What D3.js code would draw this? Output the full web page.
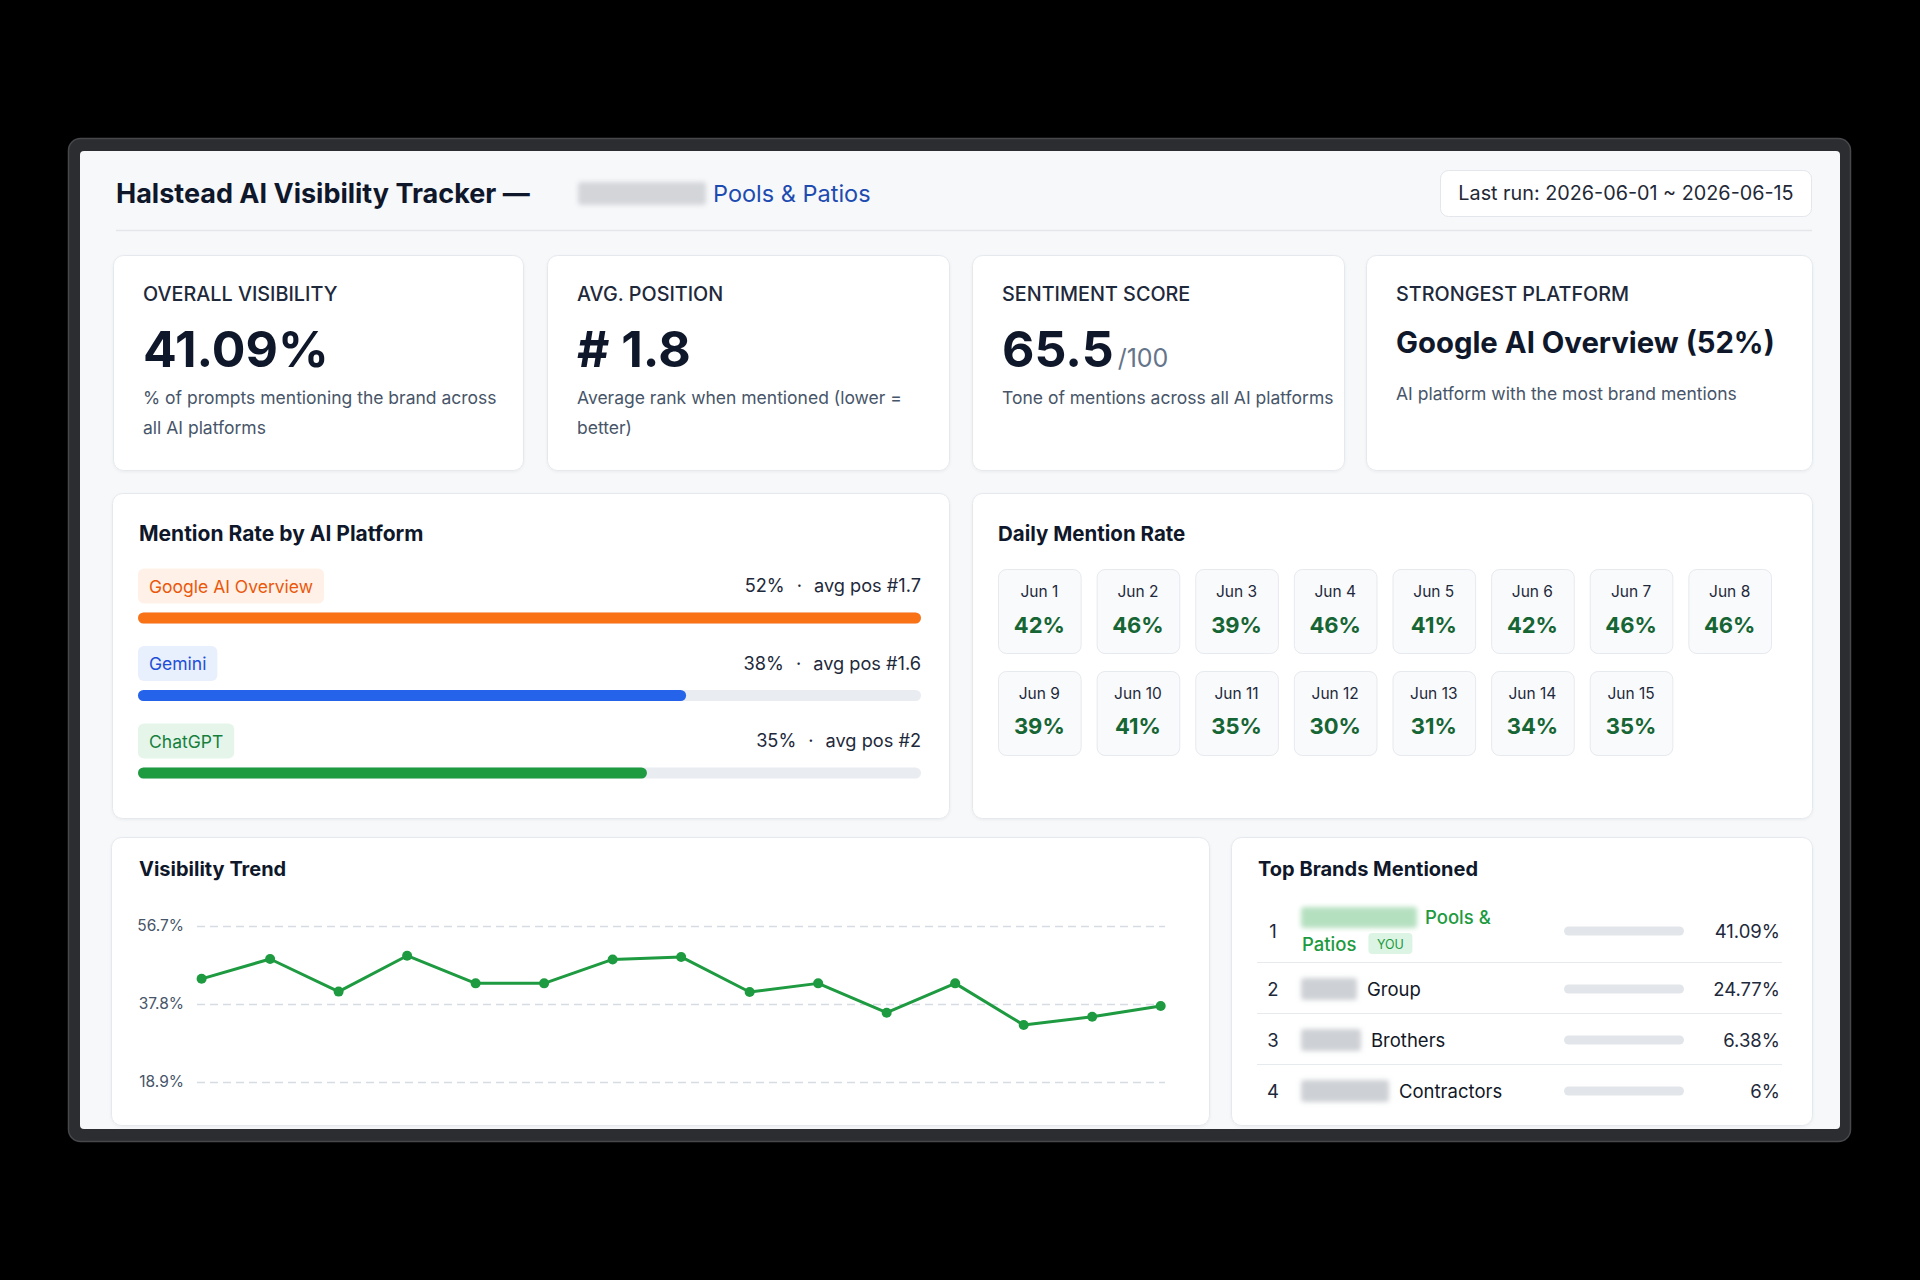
<!DOCTYPE html>
<html>
<head>
<meta charset="utf-8">
<script src="https://cdn.jsdelivr.net/npm/d3@7"></script>
<style>
  html, body { margin: 0; padding: 0; background: #000; }
  svg { display: block; font-family: Inter, Lato, "Open Sans", sans-serif; }
</style>
</head>
<body>
<svg id="chart" width="1920" height="1280"></svg>
<script>
// ---- data ----
const kpiLabels = ["OVERALL VISIBILITY", "AVG. POSITION", "SENTIMENT SCORE", "STRONGEST PLATFORM"];
const kpiValues = ["41.09%", "# 1.8", "65.5", "Google AI Overview (52%)"];
const kpiSuffix = ["", "", "/100", ""];
const kpiNotes = [
    ["% of prompts mentioning the brand across", "all AI platforms"],
    ["Average rank when mentioned (lower =", "better)"],
    ["Tone of mentions across all AI platforms"],
    ["AI platform with the most brand mentions"]
];

const platforms = ["Google AI Overview", "Gemini", "ChatGPT"];
const platformRate = [52, 38, 35];
const platformAvgPos = ["1.7", "1.6", "2"];
const platformFill = [1.0, 0.70, 0.65]; // share of the track that is filled

const dayLabels = ["Jun 1", "Jun 2", "Jun 3", "Jun 4", "Jun 5", "Jun 6", "Jun 7", "Jun 8",
    "Jun 9", "Jun 10", "Jun 11", "Jun 12", "Jun 13", "Jun 14", "Jun 15"];
const dayRates = [42, 46, 39, 46, 41, 42, 46, 46, 39, 41, 35, 30, 31, 34, 35];

const trendValues = [43.9, 48.7, 40.8, 49.5, 42.8, 42.8, 48.6, 49.2, 40.7, 42.8, 35.7, 42.8, 32.7, 34.7, 37.3];
const trendTicks = [18.9, 37.8, 56.7];

const brandRank = [1, 2, 3, 4];
const brandNames = ["Pools & Patios", "Group", "Brothers", "Contractors"];
const brandShare = [41.09, 24.77, 6.38, 6];

// ---- styles ----
const ink = "#0f172a", text2 = "#1e293b", muted = "#475569", green = "#1e9a40";
const platformStyle = [
    {text: "#ea580c", bg: "#fff1e7", bar: "#f97316"},
    {text: "#1d4ed8", bg: "#e8effd", bar: "#2563eb"},
    {text: "#15803d", bg: "#e5f5ea", bar: "#1e9a40"}
];

const svg = d3.select("#chart");
const defs = svg.append("defs");
defs.append("filter").attr("id", "blur").attr("x", "-20%").attr("y", "-40%")
    .attr("width", "140%").attr("height", "180%")
    .append("feGaussianBlur").attr("stdDeviation", 2.5);
defs.append("filter").attr("id", "shadow").attr("x", "-5%").attr("y", "-5%")
    .attr("width", "110%").attr("height", "115%")
    .append("feDropShadow").attr("dx", 0).attr("dy", 1).attr("stdDeviation", 1.5)
    .attr("flood-color", "#0f172a").attr("flood-opacity", 0.05);

// window frame + panel
svg.append("rect").attr("x", 68.5).attr("y", 138.5).attr("width", 1782).attr("height", 1003)
    .attr("rx", 12).attr("fill", "#2c2d30").attr("stroke", "#47484c").attr("stroke-width", 1.5);
svg.append("rect").attr("x", 80).attr("y", 151).attr("width", 1760).attr("height", 978)
    .attr("rx", 4).attr("fill", "#f7f8fa");

function card(x, y, w, h) {
    return svg.append("rect").attr("x", x + 0.5).attr("y", y + 0.5)
        .attr("width", w).attr("height", h).attr("rx", 10)
        .attr("fill", "#fff").attr("stroke", "#e5e8ed").attr("filter", "url(#shadow)");
}

function mask(g, x, y, w, h, fill) {
    return g.append("rect").attr("x", x).attr("y", y).attr("width", w).attr("height", h)
        .attr("rx", 3).attr("fill", fill).attr("filter", "url(#blur)");
}

// ---- header ----
svg.append("text").attr("x", 116).attr("y", 193).attr("dominant-baseline", "central")
    .attr("font-size", 27).attr("font-weight", 700).attr("fill", ink)
    .text("Halstead AI Visibility Tracker —");
mask(svg, 578, 182, 128, 23, "#d3d5d9");
svg.append("text").attr("x", 713).attr("y", 193).attr("dominant-baseline", "central")
    .attr("font-size", 23.5).attr("fill", "#1e4bb0").text("Pools & Patios");

svg.append("rect").attr("x", 1440.5).attr("y", 170.5).attr("width", 371).attr("height", 46)
    .attr("rx", 8).attr("fill", "#fff").attr("stroke", "#e3e6eb");
svg.append("text").attr("x", 1626).attr("y", 193).attr("dominant-baseline", "central")
    .attr("text-anchor", "middle").attr("font-size", 19.8).attr("fill", "#1f2937")
    .text("Last run: 2026-06-01 ~ 2026-06-15");

svg.append("line").attr("x1", 116).attr("x2", 1812).attr("y1", 230.5).attr("y2", 230.5)
    .attr("stroke", "#e3e6eb").attr("stroke-width", 1.5);

// ---- KPI cards ----
const kpiBox = [[113, 410], [547, 402], [972, 372], [1366, 446]];
kpiLabels.forEach((label, i) => {
    const [x, w] = kpiBox[i];
    card(x, 255, w, 215);
    const g = svg.append("g").attr("transform", `translate(${x + 30},255)`);
    g.append("text").attr("y", 39).attr("dominant-baseline", "central")
        .attr("font-size", 19.8).attr("font-weight", 500).attr("fill", text2).text(label);
    const big = i < 3;
    const v = g.append("text").attr("y", big ? 112 : 98)
        .attr("font-size", big ? 50 : 29.3).attr("font-weight", 700).attr("fill", ink)
        .text(kpiValues[i]);
    if (kpiSuffix[i]) {
        v.append("tspan").attr("dx", 4).attr("font-size", 25).attr("font-weight", 400)
            .attr("fill", "#64748b").text(kpiSuffix[i]);
    }
    kpiNotes[i].forEach((line, j) => {
        g.append("text").attr("y", (big ? 142 : 138) + j * 30).attr("dominant-baseline", "central")
            .attr("font-size", 17.5).attr("fill", muted).text(line);
    });
});

// ---- Mention rate by platform ----
card(112, 493, 837, 325);
svg.append("text").attr("x", 139).attr("y", 533).attr("dominant-baseline", "central")
    .attr("font-size", 21).attr("font-weight", 700).attr("fill", ink)
    .text("Mention Rate by AI Platform");

const yP = d3.scalePoint().domain(platforms).range([586, 741]);
const xP = d3.scaleLinear().domain([0, 1]).range([138, 921]);

const pRows = svg.append("g").selectAll("g")
    .data(platforms.map((name, i) => ({name, i, rate: platformRate[i], pos: platformAvgPos[i], fill: platformFill[i]})))
    .join("g")
    .attr("transform", d => `translate(0,${yP(d.name)})`);

pRows.each(function (d) {
    const g = d3.select(this);
    const st = platformStyle[d.i];
    const pill = g.append("rect").attr("x", 138).attr("y", -17.5).attr("height", 35)
        .attr("rx", 6).attr("fill", st.bg);
    const t = g.append("text").attr("x", 149).attr("dominant-baseline", "central")
        .attr("font-size", 17.5).attr("fill", st.text).text(d.name);
    pill.attr("width", t.node().getComputedTextLength() + 22);

    const lab = g.append("text").attr("x", xP(1)).attr("y", -1).attr("text-anchor", "end")
        .attr("dominant-baseline", "central").attr("font-size", 18.2).attr("fill", text2);
    lab.append("tspan").text(d.rate + "%");
    lab.append("tspan").attr("dx", 12).text("·");
    lab.append("tspan").attr("dx", 12).text("avg pos #" + d.pos);

    g.append("rect").attr("x", xP(0)).attr("y", 32 - 5.5).attr("height", 11).attr("rx", 5.5)
        .attr("width", xP(1) - xP(0)).attr("fill", "#e9ecf1");
    g.append("rect").attr("x", xP(0)).attr("y", 32 - 5.5).attr("height", 11).attr("rx", 5.5)
        .attr("width", xP(d.fill) - xP(0)).attr("fill", st.bar);
});

// ---- Daily mention rate ----
card(972, 493, 840, 325);
svg.append("text").attr("x", 998).attr("y", 533).attr("dominant-baseline", "central")
    .attr("font-size", 20.5).attr("font-weight", 700).attr("fill", ink)
    .text("Daily Mention Rate");

const perRow = 8;
const xCol = d3.scaleBand().domain(d3.range(perRow)).range([998, 1771]).paddingInner(0.162);
const yRow = d3.scaleBand().domain([0, 1]).range([569, 755]).paddingInner(0.176);

const tiles = svg.append("g").selectAll("g")
    .data(dayLabels.map((label, i) => ({label, rate: dayRates[i], col: i % perRow, row: Math.floor(i / perRow)})))
    .join("g")
    .attr("transform", d => `translate(${xCol(d.col)},${yRow(d.row)})`);
tiles.append("rect").attr("x", 0.5).attr("y", 0.5)
    .attr("width", xCol.bandwidth()).attr("height", yRow.bandwidth())
    .attr("rx", 8).attr("fill", "#f9fafb").attr("stroke", "#e6e9ee");
tiles.append("text").attr("x", xCol.bandwidth() / 2).attr("y", 22.5)
    .attr("text-anchor", "middle").attr("dominant-baseline", "central")
    .attr("font-size", 15.5).attr("fill", text2).text(d => d.label);
tiles.append("text").attr("x", xCol.bandwidth() / 2).attr("y", 55.5)
    .attr("text-anchor", "middle").attr("dominant-baseline", "central")
    .attr("font-size", 22).attr("font-weight", 700).attr("fill", "#166534").text(d => d.rate + "%");

// ---- Visibility trend ----
card(111, 837, 1098, 288);
svg.append("text").attr("x", 139).attr("y", 869).attr("dominant-baseline", "central")
    .attr("font-size", 20).attr("font-weight", 700).attr("fill", ink)
    .text("Visibility Trend");

const xT = d3.scalePoint().domain(dayLabels).range([201.6, 1160.7]);
const yT = d3.scaleLinear().domain([0, 56.7]).range([1160, 926]);

svg.append("g").attr("transform", "translate(197,0)")
    .call(d3.axisLeft(yT).tickValues(trendTicks).tickSize(-968).tickPadding(13)
        .tickFormat(d => d3.format(".1f")(d) + "%"))
    .call(g => g.select(".domain").remove())
    .call(g => g.selectAll(".tick line").attr("stroke", "#d6dbe4")
        .attr("stroke-width", 1.5).attr("stroke-dasharray", "8 5"))
    .call(g => g.selectAll(".tick text").attr("font-size", 15.5).attr("fill", muted)
        .attr("font-family", "Inter, Lato, sans-serif"));

svg.append("path").datum(trendValues)
    .attr("fill", "none").attr("stroke", green).attr("stroke-width", 3)
    .attr("stroke-linejoin", "round")
    .attr("d", d3.line().x((d, i) => xT(dayLabels[i])).y(d => yT(d)));
svg.append("g").selectAll("circle").data(trendValues).join("circle")
    .attr("cx", (d, i) => xT(dayLabels[i])).attr("cy", d => yT(d))
    .attr("r", 5).attr("fill", green);

// ---- Top brands ----
card(1231, 837, 581, 288);
svg.append("text").attr("x", 1258).attr("y", 869).attr("dominant-baseline", "central")
    .attr("font-size", 20).attr("font-weight", 700).attr("fill", ink)
    .text("Top Brands Mentioned");

const rowCenter = [931, 989, 1040, 1091];
const rowSep = [962.5, 1013.5, 1064.5];
const maskW = [116, 56, 60, 88];

svg.append("g").selectAll("line").data(rowSep).join("line")
    .attr("x1", 1257).attr("x2", 1782).attr("y1", d => d).attr("y2", d => d)
    .attr("stroke", "#e6e9ee").attr("stroke-width", 1.2);

const bRows = svg.append("g").selectAll("g")
    .data(brandNames.map((name, i) => ({name, i, rank: brandRank[i], share: brandShare[i]})))
    .join("g")
    .attr("transform", d => `translate(0,${rowCenter[d.i]})`);

bRows.append("text").attr("x", 1273).attr("text-anchor", "middle").attr("dominant-baseline", "central")
    .attr("font-size", 18.5).attr("fill", text2).text(d => d.rank);

bRows.each(function (d) {
    const g = d3.select(this);
    if (d.i === 0) {
        const [first, second] = ["Pools &", "Patios"];
        mask(g, 1301, -24, maskW[0], 21, "#b5e0c0");
        g.append("text").attr("x", 1425).attr("y", -14).attr("dominant-baseline", "central")
            .attr("font-size", 18.5).attr("font-weight", 500).attr("fill", green).text(first);
        const t2 = g.append("text").attr("x", 1302).attr("y", 13).attr("dominant-baseline", "central")
            .attr("font-size", 18.5).attr("font-weight", 500).attr("fill", green).text(second);
        const bx = 1302 + t2.node().getComputedTextLength() + 12;
        g.append("rect").attr("x", bx).attr("y", 2).attr("width", 44).attr("height", 21)
            .attr("rx", 4).attr("fill", "#dcf4e3");
        g.append("text").attr("x", bx + 22).attr("y", 13).attr("text-anchor", "middle")
            .attr("dominant-baseline", "central").attr("font-size", 12.5).attr("fill", green).text("YOU");
    } else {
        mask(g, 1301, -11, maskW[d.i], 22, "#cdd0d4");
        g.append("text").attr("x", 1301 + maskW[d.i] + 10).attr("dominant-baseline", "central")
            .attr("font-size", 18.5).attr("fill", "#111827").text(d.name);
    }
});

bRows.append("rect").attr("x", 1564).attr("y", -4.5).attr("width", 120).attr("height", 9)
    .attr("rx", 4.5).attr("fill", "#e2e5ea");
bRows.append("text").attr("x", 1780).attr("text-anchor", "end").attr("dominant-baseline", "central")
    .attr("font-size", 18.5).attr("fill", text2).text(d => d.share + "%");
</script>
</body>
</html>
